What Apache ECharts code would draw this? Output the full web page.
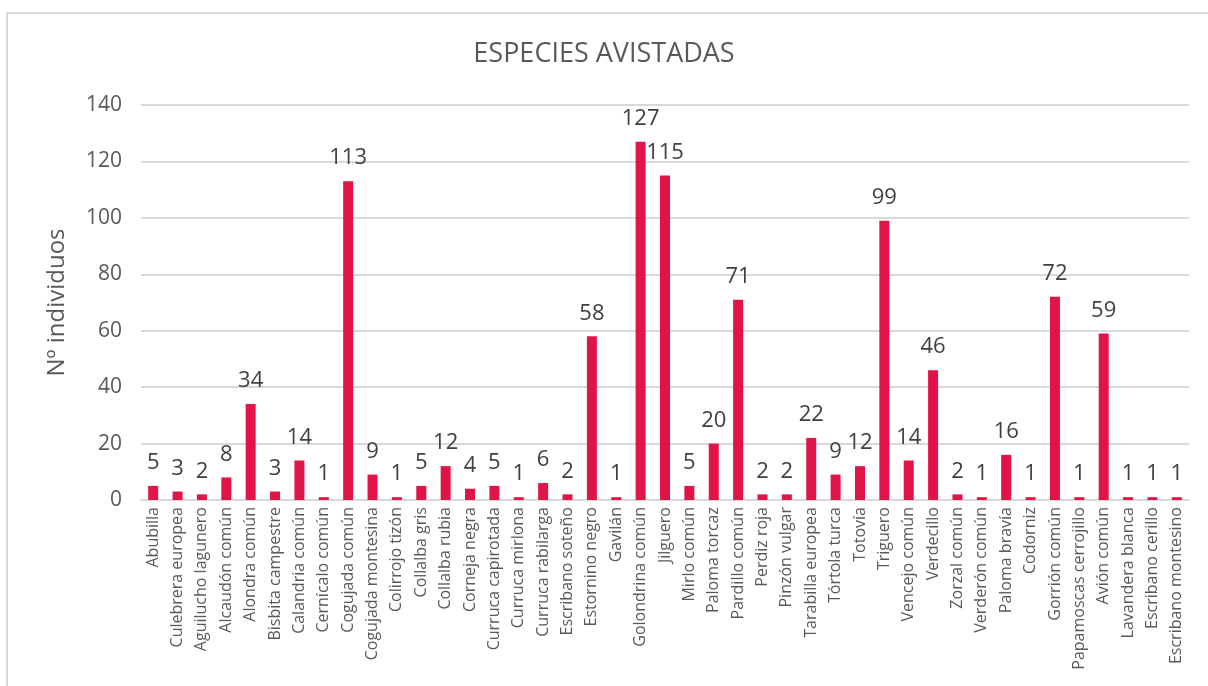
<!DOCTYPE html>
<html>
<head>
<meta charset="utf-8">
<script src="https://cdn.jsdelivr.net/npm/echarts@6/dist/echarts.min.js"></script>
<style>
html,body{margin:0;padding:0;background:#fff;}
#chart{width:1208px;height:686px;}
</style>
</head>
<body>
<div id="chart"></div>
<script>
const categories = ["Abubilla","Culebrera europea","Aguilucho lagunero","Alcaudón común","Alondra común","Bisbita campestre","Calandria común","Cernícalo común","Cogujada común","Cogujada montesina","Colirrojo tizón","Collalba gris","Collalba rubia","Corneja negra","Curruca capirotada","Curruca mirlona","Curruca rabilarga","Escribano soteño","Estornino negro","Gavilán","Golondrina común","Jilguero","Mirlo común","Paloma torcaz","Pardillo común","Perdiz roja","Pinzón vulgar","Tarabilla europea","Tórtola turca","Totovía","Triguero","Vencejo común","Verdecillo","Zorzal común","Verderón común","Paloma bravía","Codorniz","Gorrión común","Papamoscas cerrojillo","Avión común","Lavandera blanca","Escribano cerillo","Escribano montesino"];
const individuos = [5,3,2,8,34,3,14,1,113,9,1,5,12,4,5,1,6,2,58,1,127,115,5,20,71,2,2,22,9,12,99,14,46,2,1,16,1,72,1,59,1,1,1];
const yTicks = {min:0, max:140, interval:20};

const chart = echarts.init(document.getElementById('chart'));
const font = '"Open Sans", Lato, sans-serif';
chart.setOption({
  animation:false,
  backgroundColor:'#fff',
  graphic:[{type:'rect',shape:{x:7,y:13,width:1220,height:700},style:{fill:'none',stroke:'#d9d9d9',lineWidth:2},silent:true}],
  title:{text:'ESPECIES AVISTADAS',left:'center',top:36,textStyle:{fontFamily:font,fontSize:27,fontWeight:'normal',color:'#595959'}},
  grid:{left:141,right:19,top:105,bottom:186,containLabel:false},
  xAxis:{type:'category',data:categories,
    axisLine:{show:true,lineStyle:{color:'#d9d9d9',width:2}},
    axisTick:{show:false},
    axisLabel:{rotate:90,interval:0,fontFamily:font,fontSize:16,color:'#595959',margin:7}},
  yAxis:{type:'value',min:yTicks.min,max:yTicks.max,interval:yTicks.interval,
    name:'Nº individuos',nameLocation:'middle',nameGap:72,
    nameTextStyle:{fontFamily:font,fontSize:24,color:'#595959'},
    axisLine:{show:false},axisTick:{show:false},
    axisLabel:{fontFamily:font,fontSize:21,color:'#595959',margin:19},
    splitLine:{lineStyle:{color:'#d9d9d9',width:2}}},
  series:[{type:'bar',data:individuos,barWidth:10,
    itemStyle:{color:'#E01447'},
    label:{show:true,position:'top',distance:12,fontFamily:font,fontSize:22,color:'#404040'}}]
});
</script>
</body>
</html>
